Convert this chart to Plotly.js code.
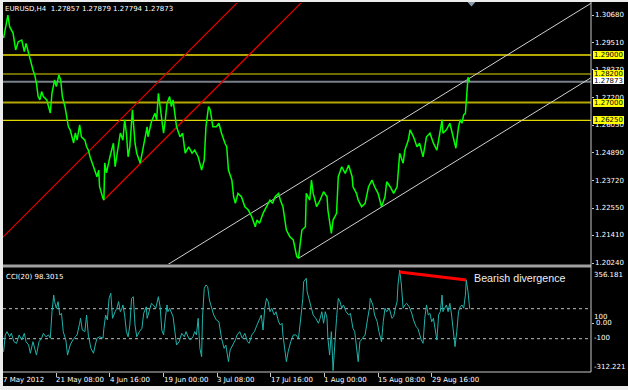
<!DOCTYPE html>
<html>
<head>
<meta charset="utf-8">
<script src="https://cdn.plot.ly/plotly-3.0.1.min.js"></script>
<style>
  html, body { margin: 0; padding: 0; background: #ececec; width: 628px; height: 390px; overflow: hidden; }
  #chart { position: absolute; left: 3px; top: 2px; width: 625px; height: 384px; }
</style>
</head>
<body>
<div id="chart"></div>
<script>
// ---------------- DATA ----------------
const symbolHeader = "EURUSD,H4  1.27857 1.27879 1.27794 1.27873";
const cciHeader = "CCI(20) 98.3015";
const noteText = "Bearish divergence";

// bar index (4H bars) and close prices
const priceBars = [1,5,6,8,10,12,15,18,22,25,27,30,32,35,37,39,41,43,45,47,51,53,55,57,59,60,62,65,67,69,72,74,76,78,80,82,84,86,89,91,95,97,99,101,105,109,111,112,116,117,118,120,124,128,130,134,136,139,141,143,145,147,150,153,155,159,163,167,168,172,176,178,180,182,184,186,188,190,193,195,197,199,201,205,208,211,215,219,222,226,230,233,235,238,240,243,247,250,253,257,259,261,265,267,269,272,276,280,284,288,292,294,297,301,305,309,312,315,319,321,324,328,332,336,340,342,344,346,350,351,355,357,359,363,367,371,375,376,380,382,386,388,392,396,400,404,405,409,411,415,419,423,427,430,434,438,442,444,448,452,456,457,459,463,465,469,471,475,479,482,486,490,494,498,502,504,508,509,513,517,521,524,527,529,531,533,535,536,537,538,540];
const priceVals = [1.2971,1.3061,1.3068,1.3019,1.3005,1.2992,1.2921,1.2956,1.2963,1.2914,
1.2949,1.2900,1.2879,1.2837,1.2816,1.2782,1.2725,1.2711,1.2746,1.2725,
1.2711,1.2683,1.2656,1.2740,1.2782,1.2795,1.2767,1.2816,1.2795,1.2725,
1.2683,1.2648,1.2598,1.2585,1.2556,1.2530,1.2572,1.2542,1.2606,1.2556,
1.2542,1.2514,1.2500,1.2472,1.2430,1.2388,1.2416,1.2346,1.2297,1.2290,
1.2446,1.2404,1.2472,1.2529,1.2430,1.2514,1.2572,1.2542,1.2627,1.2572,
1.2472,1.2514,1.2669,1.2529,1.2487,1.2445,1.2529,1.2598,1.2556,1.2619,
1.2655,1.2627,1.2739,1.2683,1.2627,1.2571,1.2627,1.2697,1.2725,1.2683,
1.2711,1.2640,1.2598,1.2556,1.2571,1.2487,1.2514,1.2487,1.2500,1.2472,
1.2416,1.2458,1.2598,1.2683,1.2669,1.2598,1.2598,1.2613,1.2571,1.2529,
1.2514,1.2416,1.2374,1.2304,1.2276,1.2318,1.2304,1.2262,1.2248,1.2220,
1.2178,1.2206,1.2192,1.2234,1.2262,1.2290,1.2276,1.2304,1.2318,1.2290,
1.2262,1.2164,1.2136,1.2122,1.2052,1.2045,1.2108,1.2164,1.2178,1.2318,
1.2290,1.2374,1.2318,1.2262,1.2290,1.2325,1.2304,1.2248,1.2150,1.2206,
1.2234,1.2388,1.2430,1.2402,1.2437,1.2388,1.2346,1.2318,1.2290,1.2262,
1.2276,1.2346,1.2374,1.2346,1.2318,1.2262,1.2304,1.2367,1.2346,1.2318,
1.2346,1.2402,1.2487,1.2445,1.2500,1.2542,1.2585,1.2556,1.2514,1.2529,
1.2472,1.2556,1.2571,1.2529,1.2500,1.2542,1.2627,1.2571,1.2585,1.2613,
1.2556,1.2508,1.2598,1.2627,1.2613,1.2648,1.2655,1.2711,1.2781,1.2806,
1.2787];

// CCI(20)
const cciBars = [1,3,5,8,10,13,16,19,22,25,27,30,32,35,37,39,42,45,47,50,53,55,57,59,60,62,64,66,68,70,73,75,78,81,84,86,89,90,92,95,97,99,102,105,107,109,112,116,117,119,121,123,125,127,130,132,134,136,138,139,141,143,145,147,149,151,153,155,158,161,163,166,167,170,172,174,177,180,182,184,186,188,190,191,193,197,199,201,204,207,210,212,215,217,220,222,224,226,228,230,231,233,235,237,239,242,244,247,250,253,256,258,261,263,266,269,271,274,277,280,283,285,288,291,294,297,299,301,303,305,307,309,311,314,316,319,321,323,324,328,330,333,336,339,342,345,347,348,351,352,355,357,359,362,365,367,369,371,373,375,376,378,380,382,384,386,388,390,392,394,397,400,402,405,407,409,411,413,416,419,422,424,425,428,430,433,435,438,440,442,444,447,450,452,454,456,457,459,461,463,465,467,470,473,475,478,480,482,484,486,488,490,492,494,496,498,500,502,504,506,508,509,511,513,515,517,519,521,523,525,527,529,531,533,535,536,538,540];
const cciVals = [-187,-75,-53,-87,-64,-120,-131,-75,-109,-64,
-120,-142,-197,-120,-164,-209,-120,-97,-64,-87,
-75,-97,80,191,147,103,147,58,69,-53,
-109,-209,-142,-109,-87,-75,3,36,-42,-53,
58,-75,-164,-197,-142,-97,-87,-97,-31,58,
25,169,203,36,80,103,147,80,103,125,
58,-53,-87,-9,169,180,-9,-87,-53,-31,
69,113,36,91,136,125,103,180,113,-42,
-75,36,125,80,103,47,-31,-142,-120,-64,
-87,-53,-97,-109,-87,-53,-75,36,-164,-220,
36,236,258,247,158,103,58,25,13,-97,
-164,-142,-253,-175,-142,-109,-75,-53,-97,-64,
-120,-131,-75,-53,-9,36,58,-42,103,169,
147,80,103,58,80,13,-9,3,-75,-253,
-187,-120,-75,-75,-97,58,169,280,303,213,
147,103,58,36,3,36,80,3,80,36,
-97,-209,-53,-312.2,-120,36,169,147,103,125,
80,58,69,-31,-53,-142,-253,-120,-97,-75,
36,103,169,125,58,13,-53,-120,13,103,
80,103,36,47,103,147,258,356.2,258,103,
125,136,113,69,25,-20,-31,-75,-109,-131,
36,125,58,69,13,36,-53,-109,58,80,
191,80,103,125,80,136,58,-53,-153,-53,
80,113,125,103,191,291,213,98.3];

// drawn objects (anchor points: bar, price)
const redChannelLowerBars = [117, 345];   const redChannelLowerPrices = [1.2290, 1.3119];
const redChannelUpperBars = [0, 271];     const redChannelUpperPrices = [1.2133, 1.3119];
const whiteChannelUpperBars = [191, 680]; const whiteChannelUpperPrices = [1.2019, 1.3117];
const whiteChannelLowerBars = [342, 680]; const whiteChannelLowerPrices = [1.2045, 1.2804];
const divergenceBars = [459, 536];        const divergenceCci = [345, 291];

const levelPrices = [1.29000, 1.28200, 1.27000, 1.26250];
const bidPrice = 1.27873;
const cciLevels = [100, -100];

const priceTicks = [1.30680, 1.29510, 1.28370, 1.27200, 1.26050, 1.24890, 1.23720, 1.22550, 1.21410, 1.20240];
const timeTickBars = [0, 62, 124, 186, 248, 310, 372, 434, 496];
const timeTickLabels = ["7 May 2012", "21 May 08:00", "4 Jun 16:00", "19 Jun 00:00", "3 Jul 08:00", "17 Jul 16:00", "1 Aug 00:00", "15 Aug 08:00", "29 Aug 16:00"];
const cciScaleLabels = ["356.181", "100", "0.00", "-100", "-312.221"];
const shiftMarkBar = 542;

// ---------------- LAYOUT HELPERS ----------------
const X_RANGE = [0.35, 680.2];
const px = X => (X - 3) / 588;      // page x -> paper x
const py = Y => (372 - Y) / 369;    // page y -> paper y
const barToPaper = b => (b - X_RANGE[0]) / (X_RANGE[1] - X_RANGE[0]);
const FONT = "DejaVu Sans";
const WHITE = "#ffffff";

function note(text, x, y, xref, yref, extra) {
  return Object.assign({
    text: text, x: x, y: y, xref: xref, yref: yref, showarrow: false,
    xanchor: "left", yanchor: "middle", borderpad: 0, borderwidth: 0,
    font: { family: FONT, size: 7, color: WHITE }
  }, extra || {});
}

const traces = [
  { x: redChannelUpperBars, y: redChannelUpperPrices, mode: "lines", line: { color: "#e00000", width: 1.3 }, hoverinfo: "skip" },
  { x: redChannelLowerBars, y: redChannelLowerPrices, mode: "lines", line: { color: "#e00000", width: 1.3 }, hoverinfo: "skip" },
  { x: whiteChannelUpperBars, y: whiteChannelUpperPrices, mode: "lines", line: { color: "#d0d0d0", width: 1 }, hoverinfo: "skip" },
  { x: whiteChannelLowerBars, y: whiteChannelLowerPrices, mode: "lines", line: { color: "#d0d0d0", width: 1 }, hoverinfo: "skip" },
  { x: priceBars, y: priceVals, mode: "lines", line: { color: "#00ff00", width: 1.5 }, hoverinfo: "skip" },
  { x: cciBars, y: cciVals, xaxis: "x", yaxis: "y2", mode: "lines", line: { color: "#20b2aa", width: 1 }, hoverinfo: "skip" }
];

const shapes = [];
levelPrices.forEach((p, i) => {
  const strong = (i === 0 || i === 2);
  shapes.push({ type: "line", layer: "below", xref: "paper", yref: "y", x0: 0, x1: 1, y0: p, y1: p,
    line: { color: strong ? "#b4a800" : "#e0d800", width: strong ? 2 : 1.2 } });
});
shapes.push({ type: "line", layer: "below", xref: "paper", yref: "y", x0: 0, x1: 1, y0: bidPrice, y1: bidPrice,
  line: { color: "#77808a", width: 2 } });
cciLevels.forEach(v => {
  shapes.push({ type: "line", layer: "below", xref: "paper", yref: "y2", x0: 0, x1: 1, y0: v, y1: v,
    line: { color: "#c0c0c0", width: 1, dash: "3px,3px" } });
});
shapes.push({ type: "line", xref: "x", yref: "y2", x0: divergenceBars[0], x1: divergenceBars[1],
  y0: divergenceCci[0], y1: divergenceCci[1], line: { color: "#ff0000", width: 3 } });
// panel separator and frame
shapes.push({ type: "rect", xref: "paper", yref: "paper", x0: 0, x1: 1, y0: py(267.6), y1: py(264.4),
  fillcolor: "#a0a0a0", line: { width: 0 } });
shapes.push({ type: "line", xref: "paper", yref: "paper", x0: 1, x1: 1, y0: 0, y1: 1.01, line: { color: "#c8c8c8", width: 1 } });
shapes.push({ type: "line", xref: "paper", yref: "paper", x0: 0, x1: 1, y0: 0, y1: 0, line: { color: "#c8c8c8", width: 1 } });
// chart shift marker
shapes.push({ type: "path", xref: "x", yref: "paper",
  path: `M ${shiftMarkBar - 4.6},${py(2)} L ${shiftMarkBar + 4.6},${py(2)} L ${shiftMarkBar},${py(6.5)} Z`,
  fillcolor: "#8a9aaa", line: { width: 0 } });

const annotations = [];
annotations.push(note(symbolHeader, px(5), py(9), "paper", "paper"));
annotations.push(note(cciHeader, px(6), py(276.7), "paper", "paper"));
annotations.push(note(noteText, px(474), py(277.5), "paper", "paper",
  { font: { family: "Liberation Sans", size: 10.7, color: "#eeeeee" } }));
// price scale labels
priceTicks.forEach(p => annotations.push(note(p.toFixed(5), 1, p, "paper", "y", { xshift: 4 })));
// level boxes
levelPrices.forEach(p => annotations.push(note(p.toFixed(5), 1, p, "paper", "y",
  { xshift: 2, width: 31, height: 8, align: "center", bgcolor: "#ffff00", font: { family: FONT, size: 7, color: "#000000" } })));
annotations.push(note(bidPrice.toFixed(5), 1, bidPrice, "paper", "y",
  { xshift: 2, yshift: 1, width: 31, height: 7, align: "center", bgcolor: "#ffffff", font: { family: FONT, size: 7, color: "#000000" } }));
// CCI scale labels
const cciLabelY = [275, 317.3, 322.7, 338.3, 366.7];
const cciLabelX = [594, 594, 596, 594, 594];
cciScaleLabels.forEach((t, i) => annotations.push(note(t, px(cciLabelX[i]), py(cciLabelY[i]), "paper", "paper")));
// time labels (left-aligned at their tick)
timeTickBars.forEach((b, i) => annotations.push(note(timeTickLabels[i], barToPaper(b), py(380), "paper", "paper")));

const layout = {
  width: 625, height: 384,
  margin: { l: 0, r: 37, t: 1, b: 14, pad: 0 },
  paper_bgcolor: "#000000", plot_bgcolor: "#000000",
  showlegend: false,
  xaxis: { range: X_RANGE, anchor: "y2", showgrid: false, zeroline: false, showline: false,
    ticks: "outside", ticklen: 4, tickwidth: 1, tickcolor: "#c8c8c8", tickvals: timeTickBars, showticklabels: false, fixedrange: true },
  yaxis: { domain: [py(264), 1], range: [1.20211, 1.31186], side: "right", anchor: "x", showgrid: false, zeroline: false,
    showline: false, ticks: "outside", ticklen: 2, tickcolor: "#c8c8c8", tickvals: priceTicks, showticklabels: false, fixedrange: true },
  yaxis2: { domain: [0, py(268)], range: [-322, 371.3], side: "right", anchor: "x", showgrid: false, zeroline: false,
    showline: false, ticks: "outside", ticklen: 2, tickcolor: "#c8c8c8", tickvals: [0], showticklabels: false, fixedrange: true },
  shapes: shapes,
  annotations: annotations
};

Plotly.newPlot("chart", traces, layout, { staticPlot: true, displayModeBar: false });
</script>
</body>
</html>
